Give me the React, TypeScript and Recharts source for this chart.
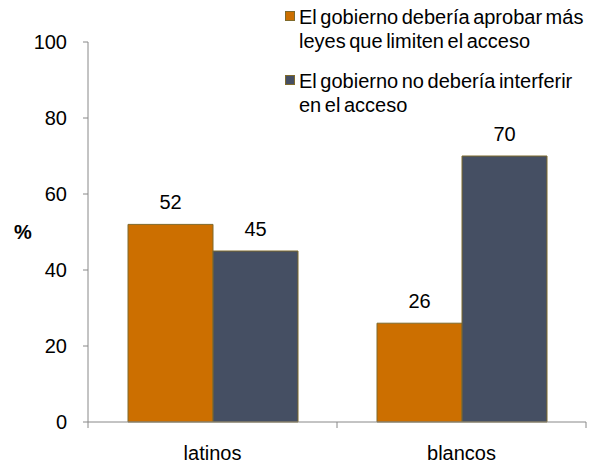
import { BarChart, Bar, XAxis, YAxis, LabelList } from 'recharts'

const groups = ['latinos', 'blancos']
const restrict = [52, 26]
const noInterfere = [45, 70]
const yTicks = [0, 20, 40, 60, 80, 100]
const seriesNames = [
  ['El gobierno debería aprobar más', 'leyes que limiten el acceso'],
  ['El gobierno no debería interferir', 'en el acceso'],
]
const colors = ['#CC6F00', '#454F63']

const data = groups.map((g, i) => ({ group: g, restrict: restrict[i], noInterfere: noInterfere[i] }))

const W = 601
const H = 465
const LEFT = 88
const RIGHT = 15
const BAND = (W - LEFT - RIGHT) / groups.length
const FONT = '"Liberation Sans", Arial, sans-serif'

function XTick(props: any) {
  const { x, y, payload, index } = props
  const left = x - BAND / 2
  return (
    <g>
      <line x1={left} y1={y - 8} x2={left} y2={y - 2} stroke="#888" />
      {index === groups.length - 1 && (
        <line x1={x + BAND / 2} y1={y - 8} x2={x + BAND / 2} y2={y - 2} stroke="#888" />
      )}
      <text x={x} y={y + 30} textAnchor="middle" fontSize={20} fill="#000" fontFamily={FONT}>
        {payload.value}
      </text>
    </g>
  )
}

function LegendBox() {
  return (
    <div
      style={{
        position: 'absolute',
        left: 285,
        top: 5,
        width: 316,
        fontFamily: FONT,
        fontSize: 20,
        color: '#000',
        lineHeight: '24px',
        wordSpacing: '-2px',
      }}
    >
      {seriesNames.map((lines, i) => (
        <div key={i} style={{ position: 'relative', paddingLeft: 14, marginBottom: i === 0 ? 16 : 0 }}>
          <span
            style={{
              position: 'absolute',
              left: 0,
              top: 6,
              width: 10,
              height: 10,
              background: colors[i],
              border: '1px solid #7F6A2C',
              boxSizing: 'border-box',
            }}
          />
          {lines.map((l, j) => (
            <div key={j} style={{ whiteSpace: 'nowrap' }}>{l}</div>
          ))}
        </div>
      ))}
    </div>
  )
}

export default function App() {
  return (
    <div style={{ position: 'absolute', left: 0, top: 0, width: W, height: H, background: '#fff' }}>
      <BarChart
        width={W}
        height={H}
        data={data}
        margin={{ top: 42, right: RIGHT, left: 0, bottom: 13 }}
        barCategoryGap={40}
        barGap={0}
      >
        <XAxis
          dataKey="group"
          axisLine={{ stroke: '#888' }}
          tickLine={false}
          tick={<XTick />}
          height={30}
          interval={0}
        />
        <YAxis
          domain={[0, 100]}
          ticks={yTicks}
          width={LEFT}
          axisLine={{ stroke: '#888' }}
          tickLine={{ stroke: '#888' }}
          tickSize={5}
          tickMargin={16}
          tick={{ fontSize: 20, fill: '#000', fontFamily: FONT }}
          label={{
            value: '%',
            position: 'insideLeft',
            offset: 14,
            style: { fontSize: 20, fontWeight: 'bold', fill: '#000', fontFamily: FONT },
          }}
        />
        <Bar dataKey="restrict" fill={colors[0]} stroke="#7F6A2C" strokeWidth={1} isAnimationActive={false}>
          <LabelList dataKey="restrict" position="top" offset={15} style={{ fontSize: 20, fill: '#000', fontFamily: FONT }} />
        </Bar>
        <Bar dataKey="noInterfere" fill={colors[1]} stroke="#7F6A2C" strokeWidth={1} isAnimationActive={false}>
          <LabelList dataKey="noInterfere" position="top" offset={15} style={{ fontSize: 20, fill: '#000', fontFamily: FONT }} />
        </Bar>
      </BarChart>
      <LegendBox />
    </div>
  )
}
